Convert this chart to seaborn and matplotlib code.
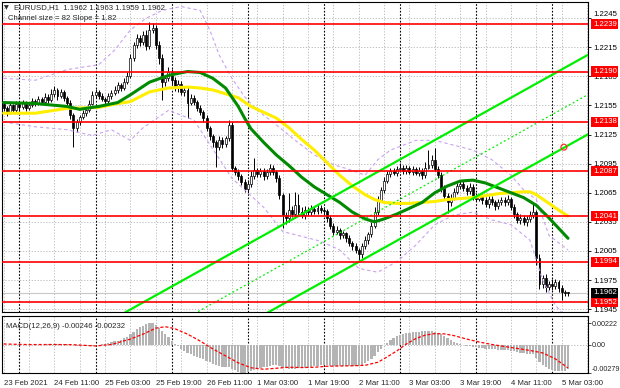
import matplotlib
matplotlib.use("Agg")
import matplotlib.pyplot as plt
import matplotlib.transforms as mtransforms
import numpy as np
import pandas as pd
import seaborn as sns

sns.set_style("white")
plt.rcParams['font.family'] = ['Liberation Sans', 'DejaVu Sans']

# ---------------- data ----------------
first_open = 1.2156
closes = [
 1.2152,1.2148,1.2155,1.2150,1.2157,1.2153,1.2158,1.2152,1.2155,1.2160,
 1.2157,1.2162,1.2159,1.2164,1.2161,1.2167,1.2171,1.2165,1.2169,1.2163,
 1.2158,1.2145,1.2132,1.2138,1.2143,1.2147,1.2150,1.2157,1.2166,1.2169,
 1.2165,1.2162,1.2160,1.2165,1.2168,1.2171,1.2176,1.2173,1.2179,1.2185,
 1.2204,1.2217,1.2225,1.2220,1.2228,1.2216,1.2233,1.2235,1.2217,1.2204,
 1.2179,1.2183,1.2190,1.2181,1.2173,1.2177,1.2169,1.2171,1.2158,1.2163,
 1.2159,1.2152,1.2148,1.2142,1.2132,1.2123,1.2117,1.2112,1.2119,1.2115,
 1.2121,1.2135,1.2091,1.2086,1.2082,1.2076,1.2069,1.2074,1.2082,1.2088,
 1.2084,1.2087,1.2082,1.2086,1.2091,1.2086,1.2080,1.2063,1.2042,1.2039,
 1.2047,1.2043,1.2052,1.2045,1.2042,1.2047,1.2045,1.2048,1.2046,1.2049,
 1.2047,1.2046,1.2039,1.2031,1.2025,1.2027,1.2021,1.2023,1.2018,1.2013,
 1.2010,1.2006,1.2002,1.2010,1.2016,1.2022,1.2031,1.2045,1.2058,1.2068,
 1.2077,1.2084,1.2087,1.2085,1.2089,1.2091,1.2087,1.2090,1.2086,1.2089,
 1.2085,1.2087,1.2083,1.2091,1.2094,1.2099,1.2089,1.2083,1.2070,1.2062,
 1.2055,1.2060,1.2066,1.2072,1.2074,1.2070,1.2067,1.2071,1.2062,1.2059,
 1.2061,1.2057,1.2053,1.2059,1.2055,1.2051,1.2055,1.2058,1.2055,1.2059,
 1.2050,1.2043,1.2037,1.2039,1.2035,1.2038,1.2042,1.2045,1.1998,1.1971,
 1.1977,1.1968,1.1971,1.1969,1.1973,1.1967,1.1963,1.1962,1.1962]
# wick lengths in pips above / below the candle body
up_wick = [
 3,2,4,2,3,2,3,2,4,3,2,3,2,4,3,5,4,2,3,2,
 2,3,2,3,2,3,2,4,4,3,2,3,2,3,3,4,3,2,4,5,
 4,3,4,3,4,5,8,5,3,4,4,3,5,3,3,4,3,4,3,4,
 3,2,3,2,3,2,3,2,4,3,3,5,3,2,3,2,3,4,5,13,
 3,4,3,3,4,3,2,3,2,3,18,4,14,12,5,4,3,4,3,4,
 3,3,2,3,3,4,2,3,2,3,2,3,2,3,4,3,4,5,4,3,
 4,3,4,3,4,5,3,4,3,4,3,5,4,6,15,5,12,4,3,3,
 3,4,4,3,4,3,3,4,3,3,2,3,4,3,3,2,4,3,3,4,
 2,3,2,4,3,3,4,9,2,4,3,4,3,5,3,2,3,2,1]
down_wick = [
 3,4,2,3,2,4,2,3,2,2,3,2,3,2,3,2,3,4,2,3,
 3,4,20,4,3,2,3,2,2,3,3,2,3,2,3,2,3,3,2,2,
 2,3,3,4,3,4,3,3,4,6,18,4,3,4,3,4,3,4,16,3,
 4,3,3,4,3,4,5,20,3,4,3,3,4,3,4,3,3,4,3,3,
 3,3,4,3,3,3,4,4,13,6,4,3,4,3,3,4,3,3,3,3,
 3,3,4,3,4,3,4,3,4,3,4,3,6,4,3,4,3,2,3,2,
 3,2,3,2,3,2,3,3,2,3,2,3,4,3,2,3,2,3,4,3,
 11,4,3,2,3,3,4,3,4,3,3,4,3,4,3,4,3,3,4,3,
 3,4,3,4,3,4,3,3,8,5,4,5,3,4,3,4,9,3,3]

ma_fast_bars = [0,10,20,24,30,36,40,46,52,58,62,66,70,74,76,78,82,86,90,94,
                98,102,106,110,114,117,120,124,128,132,136,140,144,148,152,156,160,164,168,172,176,178]
ma_fast = [1.2158,1.2157,1.2154,1.2151,1.2154,1.2158,1.2166,1.2179,1.2186,1.2190,
           1.2189,1.2183,1.2173,1.2154,1.2142,1.2131,1.2117,1.2104,1.2093,1.2081,
           1.2071,1.2063,1.2055,1.2045,1.2038,1.2035,1.2038,1.2043,1.2049,1.2055,
           1.2065,1.2072,1.2077,1.2078,1.2075,1.2070,1.2065,1.2060,1.2052,1.2039,1.2025,1.2018]
ma_slow_bars = [0,10,20,30,36,40,46,52,58,62,66,70,74,78,82,86,90,94,98,102,
                106,110,114,117,120,124,128,132,136,140,144,148,152,156,160,164,166,168,172,176,178]
ma_slow = [1.2147,1.2147,1.2152,1.2153,1.2157,1.2159,1.2169,1.2173,1.2174,1.2173,
           1.2171,1.2167,1.2163,1.2154,1.2148,1.2142,1.2132,1.2120,1.2109,1.2096,
           1.2083,1.2072,1.2063,1.2058,1.2055,1.2054,1.2054,1.2055,1.2056,1.2058,
           1.2059,1.2060,1.2062,1.2064,1.2065,1.2066,1.2066,1.2063,1.2054,1.2045,1.2041]
band_up_bars = [0,10,20,30,35,40,45,50,56,62,65,68,72,76,80,86,92,98,104,110,
                114,118,122,126,130,136,142,148,154,160,164,168,172,178]
band_up = [1.2183,1.2181,1.2192,1.2197,1.2212,1.2233,1.2245,1.2253,1.2257,1.2253,
           1.2233,1.2207,1.2183,1.2164,1.2150,1.2135,1.2119,1.2104,1.2094,1.2088,
           1.2083,1.2099,1.2109,1.2114,1.2119,1.2119,1.2114,1.2109,1.2099,1.2083,
           1.2068,1.2058,1.2021,1.2006]
band_lo_bars = [0,10,20,28,34,40,44,52,60,66,72,76,82,88,94,100,106,112,118,124,
                130,136,142,148,154,160,166,170,174,178]
band_lo = [1.2138,1.2133,1.2130,1.2124,1.2130,1.2119,1.2132,1.2150,1.2140,1.2110,
           1.2080,1.2068,1.2050,1.2025,1.2020,1.2015,1.2006,1.1987,1.1983,1.1994,
           1.2011,1.2032,1.2042,1.2045,1.2037,1.2032,1.2016,1.1975,1.1949,1.1934]

levels = [1.2239, 1.2190, 1.2138, 1.2087, 1.2041, 1.1994, 1.1952]
last_price = 1.1962
price_ticks = [1.2245, 1.2215, 1.2185, 1.2155, 1.2125, 1.2095, 1.2065, 1.2035, 1.2005, 1.1975, 1.1945]

channel_ref_bar = 60
channel_ref_price = 1.1981      # upper line at reference bar
channel_slope = 0.000182        # per bar (1.82 pips)
channel_size = 0.0082           # 82 pips
marker_bar = [176.7]
marker_price = [1.2112]

macd_hist_e5 = [
 5,4,3,3,2,2,1,2,3,3, 4,5,5,6,7,8,10,11,10,9,
 7,3,-5,-10,-12,-13,-12,-10,-6,-2, 3,8,14,20,28,36,45,55,68,85,
 110,135,160,180,195,210,222,220,205,175, 140,110,80,45,15,-15,-40,-60,-80,-95,
 -110,-125,-135,-145,-160,-175,-190,-205,-215,-222, -225,-220,-240,-255,-268,-279,-278,-270,-260,-250,
 -240,-232,-225,-218,-210,-205,-202,-215,-228,-235, -238,-240,-238,-235,-232,-228,-224,-220,-215,-210,
 -206,-202,-205,-210,-213,-214,-214,-213,-212,-212, -212,-212,-210,-200,-185,-165,-140,-110,-75,-40,
 -5,25,50,70,88,100,110,118,125,130, 134,136,137,138,139,138,132,125,110,92,
 72,52,35,20,8,-2,-10,-15,-20,-24, -28,-32,-36,-38,-42,-45,-48,-50,-52,-54,
 -58,-64,-70,-76,-82,-88,-92,-95,-130,-170, -200,-222,-238,-250,-258,-262,-262,-258,-246]
signal_bars = [0,8,16,22,29,34,40,44,48,51,54,58,62,66,70,74,78,82,86,90,
               94,98,102,106,110,114,118,121,124,127,130,133,136,139,142,146,150,154,158,162,166,170,174,178]
signal_e5 = [10,4,5,3,-10,5,60,110,170,185,165,110,40,-40,-110,-180,-230,-245,-235,-225,
             -228,-225,-215,-212,-210,-205,-175,-120,-60,10,65,100,115,112,95,60,30,5,-15,-35,-55,-80,-140,-232]
macd_ticks = [0.00222, 0.0, -0.00279]
macd_tick_labels = ["0.00222", "0.00", "-0.00279"]

time_labels = ["23 Feb 2021", "24 Feb 11:00", "25 Feb 03:00", "25 Feb 19:00", "26 Feb 11:00",
               "1 Mar 03:00", "1 Mar 19:00", "2 Mar 11:00", "3 Mar 03:00", "3 Mar 19:00",
               "4 Mar 11:00", "5 Mar 03:00"]
label_every = 16
day_start_bars = [5, 29, 53, 77, 101, 125, 149, 173]

PIP = 0.0001
E5 = 0.00001

# ---------------- figure ----------------
W, H = 620, 388
fig = plt.figure(figsize=(W / 100, H / 100), dpi=100)
fig.patch.set_facecolor("white")
ax = fig.add_axes([2 / W, 1 - 312 / H, 586 / W, 310 / H])
axm = fig.add_axes([2 / W, 1 - 373 / H, 586 / W, 57 / H])

n = len(closes)
bars = np.arange(n)
opens = [first_open] + closes[:-1]
tops = np.maximum(opens, closes)
bots = np.minimum(opens, closes)
highs = tops + np.array(up_wick) * PIP
lows = bots - np.array(down_wick) * PIP

XMAX = 184.3
for a in (ax, axm):
    a.set_xlim(-0.5, XMAX)
    a.set_facecolor("white")
    for s in a.spines.values():
        s.set_color("black")
        s.set_linewidth(0.8)

ax.set_ylim(1.19420, 1.22617)
axm.set_ylim(-0.00283, 0.00293)

grid_kw = dict(color="#b4b4b4", lw=0.6, linestyle=(0, (1.5, 2)), zorder=0.5)
for gb in range(0, int(XMAX) + 1, 8):
    ax.axvline(gb, **grid_kw)
    axm.axvline(gb, **grid_kw)
for pt in price_ticks:
    ax.axhline(pt, **grid_kw)
axm.axhline(0.0, **grid_kw)
for db in day_start_bars:
    ax.axvline(db, color="black", lw=0.8, linestyle=(0, (1.5, 1.5)), zorder=0.6)
    axm.axvline(db, color="black", lw=0.8, linestyle=(0, (1.5, 1.5)), zorder=0.6)

# candles
ax.vlines(bars, lows, highs, color="black", lw=0.7, zorder=2)
body_h = np.maximum(tops - bots, 0.00003)
colors = ["white" if c > o else "black" for o, c in zip(opens, closes)]
ax.bar(bars, body_h, bottom=bots, width=0.62, color=colors, edgecolor="black", lw=0.5, zorder=2.1)

# channel
ch_bars = np.array([30, 186])
upper = channel_ref_price + channel_slope * (ch_bars - channel_ref_bar)
sns.lineplot(x=ch_bars, y=upper, ax=ax, color="#00ee00", lw=1.6, zorder=3)
sns.lineplot(x=ch_bars, y=upper - channel_size, ax=ax, color="#00ee00", lw=1.6, zorder=3)
sns.lineplot(x=ch_bars, y=upper - channel_size / 2, ax=ax, color="#00ee00", lw=0.9,
             linestyle=(0, (1.5, 2)), zorder=3)

# bands
sns.lineplot(x=band_up_bars, y=band_up, ax=ax, color="#c9a2f0", lw=0.8, linestyle=(0, (3, 2.5)),
             zorder=2.5, estimator=None, sort=False)
sns.lineplot(x=band_lo_bars, y=band_lo, ax=ax, color="#c9a2f0", lw=0.8, linestyle=(0, (3, 2.5)),
             zorder=2.5, estimator=None, sort=False)

# moving averages
sns.lineplot(x=ma_slow_bars, y=ma_slow, ax=ax, color="#ffee00", lw=2.2, zorder=2.7,
             estimator=None, sort=False)
sns.lineplot(x=ma_fast_bars, y=ma_fast, ax=ax, color="#008a00", lw=2.2, zorder=2.8,
             estimator=None, sort=False)

# levels
for lv in levels:
    ax.axhline(lv, color="#ff0000", lw=1.2, zorder=3.2)
ax.axhline(last_price, color="#c8c8c8", lw=0.8, zorder=1.8)
ax.scatter(marker_bar, marker_price, s=18, facecolors="none", edgecolors="#ff3030", lw=0.9, zorder=4)

# right price axis
ax.yaxis.tick_right()
ax.set_yticks(price_ticks)
ax.set_yticklabels([f"{p:.4f}" for p in price_ticks], fontsize=5.6)
ax.tick_params(axis="y", length=2.5, width=0.6, pad=1.5, colors="black")
ax.get_yticklabels()[0].set_va("bottom")
ax.set_xticks([])
ax.set_xlabel("")
ax.set_ylabel("")

blend = mtransforms.blended_transform_factory(ax.transAxes, ax.transData)
for lv in levels:
    ax.text(1.0 + 5 / 586, lv, f"{lv:.4f}", transform=blend, fontsize=5.6, color="white",
            ha="left", va="center", zorder=6, clip_on=False,
            bbox=dict(boxstyle="square,pad=0.2", fc="#ff0000", ec="none"))
ax.text(1.0 + 5 / 586, last_price, f"{last_price:.4f}", transform=blend, fontsize=5.6, color="white",
        ha="left", va="center", zorder=6, clip_on=False,
        bbox=dict(boxstyle="square,pad=0.2", fc="black", ec="none"))

# MACD
axm.bar(bars, np.array(macd_hist_e5) * E5, width=0.72, color="#b4b4b4", lw=0, zorder=2)
sns.lineplot(x=signal_bars, y=np.array(signal_e5) * E5, ax=axm, color="#ff0000", lw=0.9,
             linestyle=(0, (2.5, 1.5)), zorder=3, estimator=None, sort=False)
axm.yaxis.tick_right()
axm.set_yticks(macd_ticks)
axm.set_yticklabels(macd_tick_labels, fontsize=5.2)
axm.tick_params(axis="y", length=2.0, width=0.6, pad=1.0)
ylabs = axm.get_yticklabels()
ylabs[-1].set_va("bottom")
axm.set_xticks(list(range(0, label_every * len(time_labels), label_every)))
axm.set_xticklabels(time_labels, fontsize=5.6, ha="left")
axm.tick_params(axis="x", length=3, width=0.6, pad=2)
axm.set_xlabel("")
axm.set_ylabel("")

# texts
fig.text(4 / W, 1 - 8 / H, "\u25bc", fontsize=4.5, va="center", ha="left",
         family=["DejaVu Sans"])
fig.text(14 / W, 1 - 8 / H, "EURUSD,H1  1.1962 1.1963 1.1959 1.1962", fontsize=5.6,
         va="center", ha="left")
fig.text(8 / W, 1 - 19 / H, "Channel size = 82 Slope = 1.82", fontsize=5.6, va="center", ha="left")
axm.text(4 / 586, 1 - 10 / 57, "MACD(12,26,9) -0.00246 -0.00232", transform=axm.transAxes,
         fontsize=5.6, va="center", ha="left")

fig.savefig("out.png", dpi=100, facecolor="white")
